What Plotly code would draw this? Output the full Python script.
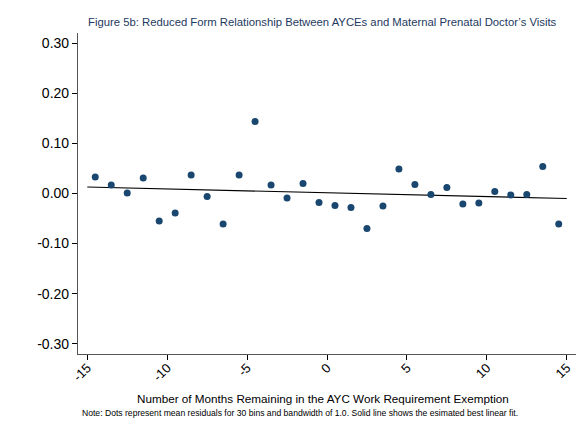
import plotly.graph_objects as go

# Data
bin_centers = [-14.5, -13.5, -12.5, -11.5, -10.5, -9.5, -8.5, -7.5, -6.5, -5.5,
               -4.5, -3.5, -2.5, -1.5, -0.5, 0.5, 1.5, 2.5, 3.5, 4.5,
               5.5, 6.5, 7.5, 8.5, 9.5, 10.5, 11.5, 12.5, 13.5, 14.5]
mean_residuals = [0.033, 0.017, 0.001, 0.031, -0.055, -0.039, 0.037, -0.006, -0.061, 0.037,
                  0.144, 0.017, -0.009, 0.020, -0.018, -0.024, -0.028, -0.070, -0.025, 0.049,
                  0.018, -0.002, 0.012, -0.021, -0.019, 0.004, -0.003, -0.002, 0.054, -0.061]
fit_x = [-15, 15]
fit_y = [0.013, -0.010]

x_tickvals = [-15, -10, -5, 0, 5, 10, 15]
x_ticktext = ["-15", "-10", "-5", "0", "5", "10", "15"]
y_tickvals = [-0.3, -0.2, -0.1, 0.0, 0.1, 0.2, 0.3]
y_ticktext = ["-0.30", "-0.20", "-0.10", "0.00", "0.10", "0.20", "0.30"]

title_text = "Figure 5b: Reduced Form Relationship Between AYCEs and Maternal Prenatal Doctor\u2019s Visits"
xaxis_title = "Number of Months Remaining in the AYC Work Requirement Exemption"
note_text = ("Note: Dots represent mean residuals for 30 bins and bandwidth of 1.0. "
             "Solid line shows the esimated best linear fit.")

FONT = "Liberation Sans, Arial, sans-serif"

fig = go.Figure()
fig.add_trace(go.Scatter(x=fit_x, y=fit_y, mode="lines",
                         line=dict(color="#000000", width=1.2), showlegend=False,
                         hoverinfo="skip"))
fig.add_trace(go.Scatter(x=bin_centers, y=mean_residuals, mode="markers",
                         marker=dict(color="#1a476f", size=7,
                                     line=dict(color="#1a476f", width=0)),
                         showlegend=False))

# page body has an 8px margin; compensate so the chart lands where the reference has it
OFF = 8
W, H = 588 - OFF, 433 - OFF
L, T = 78 - OFF, 33 - OFF
R = W - (576 - OFF)
B = H - (354 - OFF)
pw = W - L - R
ph = H - T - B

def px_x(p):
    return (p - OFF - L) / pw

def px_y(p):
    return (H - B - (p - OFF)) / ph

fig.update_layout(
    width=W, height=H,
    margin=dict(l=L, r=R, t=T, b=B),
    paper_bgcolor="white",
    plot_bgcolor="white",
    font=dict(family=FONT, color="#000000"),
    annotations=[
        dict(text=title_text, xref="paper", yref="paper",
             x=px_x(322), y=px_y(22), xanchor="center", yanchor="middle",
             showarrow=False, font=dict(size=11.3, color="#1e3a5f", family=FONT)),
        dict(text=xaxis_title, xref="paper", yref="paper",
             x=px_x(323), y=px_y(398), xanchor="center", yanchor="middle",
             showarrow=False, font=dict(size=11.7, color="#000000", family=FONT)),
        dict(text=note_text, xref="paper", yref="paper",
             x=px_x(300), y=px_y(413), xanchor="center", yanchor="middle",
             showarrow=False, font=dict(size=8.6, color="#000000", family=FONT)),
    ],
    xaxis=dict(range=[-15.58, 15.58], tickvals=x_tickvals, ticktext=x_ticktext,
               tickangle=-45, ticks="outside", ticklen=5, tickwidth=1,
               tickcolor="#000000", showline=True, linecolor="#555555",
               linewidth=1.2, showgrid=False, zeroline=False,
               ticklabelstandoff=-5,
               tickfont=dict(size=13, family=FONT)),
    yaxis=dict(range=[-0.3205, 0.3205], tickvals=y_tickvals, ticktext=y_ticktext,
               ticks="outside", ticklen=5, tickwidth=1, tickcolor="#000000",
               showline=True, linecolor="#555555", linewidth=1.2,
               showgrid=False, zeroline=False,
               tickfont=dict(size=14, family=FONT)),
)

fig.write_html("out.html")
